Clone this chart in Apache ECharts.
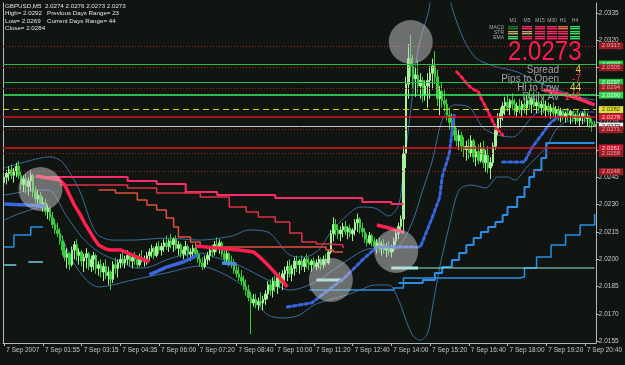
<!DOCTYPE html>
<html><head><meta charset="utf-8">
<script src="https://cdn.jsdelivr.net/npm/echarts@6/dist/echarts.min.js"></script>
<style>html,body{margin:0;padding:0;background:#101512;}#c{width:625px;height:365px;}</style>
</head><body><div id="c"></div>
<script>
// ---------- DATA ----------
const tickLabels = ["7 Sep 2007","7 Sep 01:55","7 Sep 03:15","7 Sep 04:35","7 Sep 06:00","7 Sep 07:20","7 Sep 08:40","7 Sep 10:00","7 Sep 11:20","7 Sep 12:40","7 Sep 14:00","7 Sep 15:20","7 Sep 16:40","7 Sep 18:00","7 Sep 19:20","7 Sep 20:40"];
const barsPerTick = 16;
const barCount = 245;
const yTicks = [2.0155,2.0170,2.0185,2.0200,2.0215,2.0230,2.0245,2.0260,2.0275,2.0290,2.0305,2.0320,2.0335];

// [open, close, low, high]
const ohlc = [
[2.0242,2.0245,2.0240,2.0247],[2.0245,2.0247,2.0241,2.0249],[2.0247,2.0249,2.0243,2.0251],[2.0249,2.0246,2.0244,2.0252],[2.0246,2.0248,2.0242,2.0250],
[2.0248,2.0251,2.0245,2.0253],[2.0251,2.0246,2.0244,2.0254],[2.0246,2.0241,2.0238,2.0248],[2.0241,2.0244,2.0237,2.0246],[2.0244,2.0240,2.0236,2.0247],
[2.0240,2.0243,2.0235,2.0245],[2.0243,2.0246,2.0237,2.0249],[2.0246,2.0237,2.0234,2.0247],[2.0237,2.0233,2.0231,2.0240],[2.0233,2.0235,2.0229,2.0238],
[2.0235,2.0230,2.0228,2.0237],[2.0230,2.0231,2.0226,2.0234],[2.0231,2.0226,2.0224,2.0233],[2.0226,2.0228,2.0222,2.0230],[2.0228,2.0223,2.0221,2.0229],
[2.0223,2.0219,2.0217,2.0226],[2.0219,2.0216,2.0214,2.0222],[2.0216,2.0214,2.0212,2.0220],[2.0214,2.0210,2.0208,2.0217],[2.0210,2.0205,2.0202,2.0213],
[2.0205,2.0201,2.0199,2.0209],[2.0201,2.0203,2.0195,2.0206],[2.0203,2.0197,2.0194,2.0204],[2.0197,2.0205,2.0196,2.0207],[2.0205,2.0208,2.0200,2.0210],
[2.0208,2.0202,2.0199,2.0211],[2.0202,2.0204,2.0197,2.0206],[2.0204,2.0199,2.0196,2.0205],[2.0199,2.0201,2.0193,2.0203],[2.0201,2.0203,2.0195,2.0206],
[2.0203,2.0196,2.0194,2.0204],[2.0196,2.0200,2.0193,2.0202],[2.0200,2.0202,2.0194,2.0204],[2.0202,2.0195,2.0192,2.0203],[2.0195,2.0197,2.0191,2.0199],
[2.0197,2.0193,2.0190,2.0200],[2.0193,2.0196,2.0188,2.0198],[2.0196,2.0191,2.0189,2.0200],[2.0191,2.0193,2.0186,2.0196],[2.0193,2.0189,2.0183,2.0194],
[2.0189,2.0197,2.0187,2.0199],[2.0197,2.0195,2.0192,2.0201],[2.0195,2.0198,2.0190,2.0200],[2.0198,2.0200,2.0195,2.0203],[2.0200,2.0198,2.0196,2.0204],
[2.0198,2.0200,2.0195,2.0202],[2.0200,2.0202,2.0197,2.0205],[2.0202,2.0199,2.0196,2.0203],[2.0199,2.0201,2.0195,2.0202],[2.0201,2.0200,2.0197,2.0204],
[2.0200,2.0197,2.0195,2.0201],[2.0197,2.0201,2.0196,2.0203],[2.0201,2.0199,2.0198,2.0205],[2.0199,2.0200,2.0196,2.0202],[2.0200,2.0202,2.0197,2.0204],
[2.0202,2.0204,2.0199,2.0206],[2.0204,2.0206,2.0201,2.0208],[2.0206,2.0202,2.0200,2.0207],[2.0202,2.0207,2.0201,2.0209],[2.0207,2.0205,2.0203,2.0210],
[2.0205,2.0207,2.0202,2.0209],[2.0207,2.0209,2.0204,2.0211],[2.0209,2.0207,2.0205,2.0213],[2.0207,2.0210,2.0204,2.0211],[2.0210,2.0208,2.0206,2.0214],
[2.0208,2.0211,2.0204,2.0212],[2.0211,2.0206,2.0205,2.0213],[2.0206,2.0208,2.0202,2.0210],[2.0208,2.0203,2.0201,2.0209],[2.0203,2.0205,2.0200,2.0207],
[2.0205,2.0207,2.0202,2.0210],[2.0207,2.0203,2.0201,2.0208],[2.0203,2.0204,2.0199,2.0206],[2.0204,2.0206,2.0200,2.0208],[2.0206,2.0203,2.0201,2.0209],
[2.0203,2.0200,2.0198,2.0205],[2.0200,2.0198,2.0196,2.0203],[2.0198,2.0196,2.0194,2.0201],[2.0196,2.0200,2.0195,2.0202],[2.0200,2.0202,2.0197,2.0204],
[2.0202,2.0205,2.0199,2.0206],[2.0205,2.0204,2.0201,2.0208],[2.0204,2.0208,2.0202,2.0210],[2.0208,2.0206,2.0204,2.0212],[2.0206,2.0209,2.0203,2.0211],
[2.0209,2.0203,2.0201,2.0210],[2.0203,2.0200,2.0198,2.0206],[2.0200,2.0203,2.0197,2.0205],[2.0203,2.0198,2.0196,2.0204],[2.0198,2.0197,2.0195,2.0202],
[2.0197,2.0194,2.0192,2.0200],[2.0194,2.0192,2.0190,2.0197],[2.0192,2.0190,2.0188,2.0196],[2.0190,2.0188,2.0186,2.0194],[2.0188,2.0185,2.0183,2.0191],
[2.0185,2.0183,2.0180,2.0189],[2.0183,2.0179,2.0177,2.0186],[2.0179,2.0176,2.0159,2.0182],[2.0176,2.0178,2.0174,2.0181],[2.0178,2.0175,2.0173,2.0181],
[2.0175,2.0177,2.0172,2.0179],[2.0177,2.0176,2.0174,2.0182],[2.0176,2.0178,2.0172,2.0180],[2.0178,2.0181,2.0175,2.0183],[2.0181,2.0186,2.0178,2.0188],
[2.0186,2.0183,2.0180,2.0189],[2.0183,2.0188,2.0179,2.0190],[2.0188,2.0185,2.0182,2.0191],[2.0185,2.0190,2.0181,2.0192],[2.0190,2.0187,2.0184,2.0193],
[2.0187,2.0192,2.0183,2.0194],[2.0192,2.0194,2.0186,2.0196],[2.0194,2.0196,2.0188,2.0199],[2.0196,2.0192,2.0190,2.0200],[2.0192,2.0195,2.0188,2.0197],
[2.0195,2.0199,2.0191,2.0201],[2.0199,2.0197,2.0193,2.0202],[2.0197,2.0199,2.0192,2.0200],[2.0199,2.0196,2.0194,2.0202],[2.0196,2.0200,2.0193,2.0201],
[2.0200,2.0198,2.0195,2.0203],[2.0198,2.0197,2.0194,2.0201],[2.0197,2.0199,2.0193,2.0200],[2.0199,2.0196,2.0195,2.0201],[2.0196,2.0198,2.0194,2.0200],
[2.0198,2.0200,2.0195,2.0202],[2.0200,2.0197,2.0194,2.0201],[2.0197,2.0200,2.0195,2.0202],[2.0200,2.0198,2.0196,2.0203],[2.0198,2.0204,2.0197,2.0205],
[2.0204,2.0214,2.0203,2.0216],[2.0214,2.0219,2.0210,2.0223],[2.0219,2.0216,2.0213,2.0222],[2.0216,2.0214,2.0211,2.0219],[2.0214,2.0216,2.0210,2.0218],
[2.0216,2.0218,2.0212,2.0220],[2.0218,2.0215,2.0213,2.0221],[2.0215,2.0217,2.0211,2.0218],[2.0217,2.0214,2.0212,2.0219],[2.0214,2.0216,2.0210,2.0217],
[2.0216,2.0220,2.0213,2.0222],[2.0220,2.0222,2.0215,2.0225],[2.0222,2.0217,2.0214,2.0223],[2.0217,2.0215,2.0212,2.0220],[2.0215,2.0211,2.0209,2.0217],
[2.0211,2.0209,2.0207,2.0214],[2.0209,2.0213,2.0208,2.0215],[2.0213,2.0210,2.0207,2.0214],[2.0210,2.0207,2.0205,2.0212],[2.0207,2.0209,2.0203,2.0211],
[2.0209,2.0206,2.0204,2.0212],[2.0206,2.0208,2.0202,2.0210],[2.0208,2.0205,2.0203,2.0211],[2.0205,2.0207,2.0201,2.0209],[2.0207,2.0204,2.0202,2.0210],
[2.0204,2.0206,2.0201,2.0208],[2.0206,2.0210,2.0204,2.0212],[2.0210,2.0214,2.0208,2.0216],[2.0214,2.0218,2.0211,2.0220],[2.0218,2.0222,2.0215,2.0224],
[2.0222,2.0258,2.0214,2.0262],[2.0258,2.0296,2.0250,2.0300],[2.0296,2.0310,2.0288,2.0318],[2.0310,2.0306,2.0300,2.0323],[2.0306,2.0299,2.0294,2.0312],
[2.0299,2.0301,2.0289,2.0305],[2.0301,2.0295,2.0291,2.0309],[2.0295,2.0298,2.0288,2.0302],[2.0298,2.0290,2.0286,2.0300],[2.0290,2.0295,2.0287,2.0298],
[2.0295,2.0298,2.0283,2.0302],[2.0298,2.0302,2.0288,2.0306],[2.0302,2.0306,2.0293,2.0310],[2.0306,2.0300,2.0296,2.0314],[2.0300,2.0288,2.0284,2.0304],
[2.0288,2.0292,2.0279,2.0295],[2.0292,2.0287,2.0283,2.0297],[2.0287,2.0285,2.0281,2.0293],[2.0285,2.0279,2.0276,2.0288],[2.0279,2.0275,2.0271,2.0283],
[2.0275,2.0273,2.0269,2.0280],[2.0273,2.0268,2.0265,2.0277],[2.0268,2.0265,2.0262,2.0272],[2.0265,2.0268,2.0260,2.0271],[2.0268,2.0262,2.0259,2.0270],
[2.0262,2.0260,2.0256,2.0267],[2.0260,2.0262,2.0254,2.0265],[2.0262,2.0258,2.0255,2.0266],[2.0258,2.0265,2.0256,2.0268],[2.0265,2.0256,2.0253,2.0266],
[2.0256,2.0259,2.0251,2.0262],[2.0259,2.0254,2.0252,2.0263],[2.0254,2.0261,2.0253,2.0264],[2.0261,2.0253,2.0250,2.0265],[2.0253,2.0257,2.0248,2.0260],
[2.0257,2.0250,2.0247,2.0262],[2.0250,2.0253,2.0244,2.0256],[2.0253,2.0262,2.0251,2.0264],[2.0262,2.0271,2.0260,2.0274],[2.0271,2.0277,2.0268,2.0280],
[2.0277,2.0280,2.0272,2.0283],[2.0280,2.0284,2.0276,2.0286],[2.0284,2.0286,2.0279,2.0289],[2.0286,2.0283,2.0281,2.0290],[2.0283,2.0287,2.0279,2.0288],
[2.0287,2.0285,2.0282,2.0291],[2.0285,2.0281,2.0279,2.0288],[2.0281,2.0284,2.0278,2.0286],[2.0284,2.0282,2.0280,2.0288],[2.0282,2.0285,2.0278,2.0287],
[2.0285,2.0283,2.0280,2.0289],[2.0283,2.0287,2.0279,2.0290],[2.0287,2.0285,2.0282,2.0293],[2.0285,2.0288,2.0280,2.0289],[2.0288,2.0284,2.0283,2.0292],
[2.0284,2.0286,2.0280,2.0288],[2.0286,2.0283,2.0281,2.0290],[2.0283,2.0285,2.0279,2.0287],[2.0285,2.0282,2.0280,2.0289],[2.0282,2.0284,2.0278,2.0287],
[2.0284,2.0281,2.0279,2.0286],[2.0281,2.0283,2.0277,2.0285],[2.0283,2.0280,2.0278,2.0286],[2.0280,2.0282,2.0277,2.0284],[2.0282,2.0279,2.0276,2.0284],
[2.0279,2.0281,2.0275,2.0283],[2.0281,2.0278,2.0276,2.0282],[2.0278,2.0280,2.0275,2.0281],[2.0280,2.0279,2.0276,2.0283],[2.0279,2.0281,2.0274,2.0282],
[2.0281,2.0277,2.0275,2.0281],[2.0277,2.0279,2.0274,2.0280],[2.0279,2.0276,2.0275,2.0282],[2.0276,2.0278,2.0273,2.0280],[2.0278,2.0280,2.0274,2.0281],
[2.0280,2.0277,2.0275,2.0282],[2.0277,2.0278,2.0273,2.0280],[2.0278,2.0275,2.0272,2.0279],[2.0275,2.0274,2.0270,2.0277],[2.0274,2.0273,2.0273,2.0276]
];

// Bollinger-style envelope lines: [bar index, price]
const upperBand = [[0,2.02500],[7,2.02528],[19,2.02561],[24,2.02533],[31,2.02380],[38,2.02144],[45,2.02105],[53,2.02105],[67,2.02116],[81,2.02105],[94,2.02127],[101,2.02160],[109,2.02149],[118,2.02023],[124,2.02012],[130,2.02051],[135,2.02149],[141,2.02232],[147,2.02286],[153,2.02281],[159,2.02237],[163,2.02297],[165,2.02489],[168,2.02818],[171,2.03147],[175,2.03339],[178,2.03476],[182,2.03476],[186,2.03339],[190,2.03202],[195,2.03103],[202,2.03060],[212,2.03027],[221,2.02966],[229,2.02928],[237,2.02890],[244,2.02873]];
const midBand = [[0,2.02352],[5,2.02363],[12,2.02380],[18,2.02380],[26,2.02232],[32,2.02122],[39,2.02040],[48,2.01985],[55,2.01952],[60,2.01957],[67,2.01996],[74,2.02023],[81,2.02034],[88,2.02007],[94,2.01985],[101,2.01941],[109,2.01886],[118,2.01831],[124,2.01848],[130,2.01886],[136,2.01941],[142,2.01996],[149,2.02051],[155,2.02062],[161,2.02051],[165,2.02105],[169,2.02215],[173,2.02380],[177,2.02544],[181,2.02763],[186,2.02846],[192,2.02835],[198,2.02720],[204,2.02681],[210,2.02670],[219,2.02791],[225,2.02818],[231,2.02818],[237,2.02807],[244,2.02807]];
const lowerBand = [[0,2.02215],[7,2.02254],[16,2.02286],[23,2.02144],[28,2.01996],[34,2.01886],[39,2.01848],[53,2.01886],[67,2.01925],[81,2.01963],[89,2.01930],[97,2.01870],[103,2.01788],[109,2.01694],[116,2.01678],[122,2.01694],[128,2.01749],[134,2.01777],[140,2.01798],[147,2.01831],[153,2.01859],[159,2.01859],[163,2.01777],[166,2.01667],[169,2.01579],[172,2.01556],[175,2.01596],[177,2.01738],[180,2.01957],[184,2.02188],[188,2.02380],[193,2.02407],[199,2.02391],[204,2.02451],[208,2.02451],[211,2.02434],[216,2.02506],[224,2.02615],[228,2.02709],[232,2.02752],[238,2.02763],[244,2.02752]];

// Red (resistance) trailing dots
const sarRedA = [[13,2.02456],[23,2.02434],[25,2.02407],[27,2.02352],[29,2.02297],[31,2.02254],[33,2.02204],[35,2.02160],[37,2.02116],[39,2.02078],[42,2.02056],[44,2.02051],[48,2.02051],[55,2.02012],[60,2.01985]];
const sarRedB = [[79,2.02073],[97,2.02051],[103,2.02040],[106,2.02007],[109,2.01968],[112,2.01925],[115,2.01881],[117,2.01848]];
const sarRedC = [[154,2.02188],[159,2.02171],[165,2.02149]];
const sarRedD = [[187,2.03027],[189,2.02999],[191,2.02966],[193,2.02939],[196,2.02917],[197,2.02884],[199,2.02835],[201,2.02780],[203,2.02725],[206,2.02681]];
const sarRedE = [[223,2.02928],[229,2.02911],[235,2.02890],[241,2.02862],[244,2.02846]];
// Blue (support) trailing dots
const sarBlueA = [[0,2.02303],[9,2.02297],[17,2.02292]];
const sarBlueB = [[60,2.01914],[67,2.01957],[74,2.01985],[80,2.02023]];
const sarBlueC = [[90,2.01979],[96,2.01974]];
const sarBlueD = [[117,2.01738],[127,2.01760],[134,2.01831],[141,2.01903],[148,2.01996],[154,2.02067],[163,2.02067],[172,2.02067],[177,2.02232],[180,2.02341],[181,2.02451],[184,2.02582],[185,2.02692],[186,2.02791]];
const sarBlueE = [[206,2.02533],[215,2.02533],[218,2.02610],[222,2.02681],[226,2.02752],[229,2.02780]];

// Step (trailing stop) lines
const stairRed1 = [[13,2.02451],[51,2.02429],[63,2.02413],[75,2.02369],[88,2.02352],[112,2.02336],[148,2.02314],[160,2.02303],[165,2.02303]];
const stairRed2 = [[23,2.02407],[51,2.02391],[63,2.02363],[81,2.02341],[93,2.02286],[100,2.02259],[105,2.02232],[112,2.02204],[118,2.02144],[123,2.02095],[129,2.02084],[134,2.02078],[140,2.02062]];
const stairRed3 = [[39,2.02380],[46,2.02363],[55,2.02325],[59,2.02297],[63,2.02270],[67,2.02226],[70,2.02177],[72,2.02122],[77,2.02095],[81,2.02067],[133,2.02051],[136,2.02040],[140,2.02040]];
const stairBlueLeft = [[0,2.02067],[4,2.02133],[11,2.02177],[16,2.02177]];
const cyanLeftA = [[0,2.01968],[5,2.01968]];
const cyanLeftB = [[10,2.01985],[16,2.01985]];
const stairBlue1 = [[163,2.01870],[173,2.01886],[178,2.01925],[181,2.01957],[185,2.01996],[188,2.02034],[191,2.02078],[194,2.02116],[197,2.02149],[200,2.02177],[203,2.02204],[206,2.02243],[208,2.02286],[212,2.02341],[215,2.02396],[217,2.02451],[219,2.02489],[222,2.02555],[224,2.02637],[244,2.02637]];
const stairBlue2 = [[126,2.01831],[161,2.01842],[165,2.01897],[213,2.01903],[215,2.01952],[220,2.02012],[226,2.02078],[232,2.02133],[238,2.02188],[244,2.02248]];
const cyanLine = [[160,2.01952],[244,2.01952]];
const cyanThickA = [[129,2.01886],[140,2.01886]];
const cyanThickB = [[160,2.01952],[171,2.01952]];

// Highlight circles
const highlights = [[15,2.02385],[135,2.01886],[162,2.02045],[168,2.03191]];

// Horizontal levels
const levelPrices = [2.0317,2.0307,2.0305,2.0297,2.0294,2.0290,2.0282,2.0278,2.0273,2.0271,2.0261,2.0258,2.0248];
const levelKinds  = ['dot','green','dot','green','dot','green2','yellow','red','bid','dot','red','dot','dot'];

// Texts
const headerLeft  = ["GBPUSD,M5  2.0274 2.0276 2.0273 2.0273","High= 2.0292","Low= 2.0269","Close= 2.0284"];
const headerRight = ["","Previous Days Range= 23","Current Days Range= 44",""];
const tfLabels = ['M1','M5','M15','M30','H1','H4'];
const rowLabels = ['MACD','STR','EMA'];
const cellColors = [
  ['#1f7a30','#ff2466','#ff2466','#ff2466','#f06a50','#34e060'],
  ['#c8a868','#c8a868','#ff2466','#ff2466','#ff2466','#34e060'],
  ['#40e060','#ff2466','#ff2466','#ff2466','#ff2466','#34e060']];
const bigPrice = '2.0273';
const statLabels = ['Spread','Pips to Open','Hi to Low','Daily Av'];
const statValues = ['4','-7','44','146'];
const statColors = ['#f0c040','#ff3838','#f0d050','#ff4848'];

// ---------- CHART ----------
const FONT = '"Liberation Sans", Arial, sans-serif';
const categories = Array.from({length: barCount}, (_, i) => i % barsPerTick === 0 ? tickLabels[i / barsPerTick] : '');
const Y_MIN = 2.015408, Y_MAX = 2.034048;

const levelStyle = {
  dot:    {line:{color:'#b01c1c',type:[1,2],width:1}, bg:'#9a1c24', fg:'#f0a0a0'},
  green:  {line:{color:'#22c040',type:'solid',width:1}, bg:'#28c444', fg:'#eaffea'},
  green2: {line:{color:'#3cf060',type:'solid',width:1.5}, bg:'#30d050', fg:'#eaffea'},
  yellow: {line:{color:'#d8d800',type:[6,4],width:1}, bg:'#e0e040', fg:'#404000'},
  red:    {line:{color:'#e01020',type:'solid',width:1.5}, bg:'#d01830', fg:'#ffd0d0'},
  bid:    {line:{color:'#c8c8c8',type:'solid',width:1}, bg:'#f0f0f0', fg:'#202020'}
};
const markData = levelPrices.map((p, k) => {
  const s = levelStyle[levelKinds[k]];
  return {yAxis: p, lineStyle: s.line,
    label: {show:true, position:'end', distance:3, formatter: p.toFixed(4), color: s.fg,
            backgroundColor: s.bg, fontSize: 6, fontFamily: FONT, padding:[1,3,0,3]}};
});

function lineS(data, color, width, opts) {
  return Object.assign({type:'line', data, showSymbol:false, symbol:'none', silent:true,
    lineStyle:{color, width}, z:3, animation:false}, opts || {});
}

const series = [
  {type:'line', data:[], z:1, silent:true, animation:false,
   markLine:{symbol:['none','none'], precision:5, silent:true, animation:false, data: markData}},
  lineS(upperBand, '#3b6d9e', 1, {smooth:0.3, z:1}),
  lineS(midBand, '#3b6d9e', 1, {smooth:0.3, z:1}),
  lineS(lowerBand, '#3b6d9e', 1, {smooth:0.3, z:1}),
  {type:'candlestick', data: ohlc, barWidth: 2, z:2, silent:true, animation:false,
   itemStyle:{color:'#a6f29c', color0:'#38cc38', borderColor:'#a6f29c', borderColor0:'#38cc38', borderWidth:1}},
  lineS(stairRed1, '#ff2a6a', 2, {step:'end'}),
  lineS(stairRed2, '#e0304a', 1.5, {step:'end'}),
  lineS(stairRed3, '#e2503e', 1.5, {step:'end'}),
  lineS(stairBlueLeft, '#2a90e0', 1.5, {step:'end'}),
  lineS(cyanLeftA, '#70d0e8', 1.5),
  lineS(cyanLeftB, '#70d0e8', 1.5),
  lineS(stairBlue1, '#2a8ee6', 2, {step:'end'}),
  lineS(stairBlue2, '#2a8ee6', 1.5, {step:'end'}),
  lineS(cyanLine, '#8fe8e0', 1),
  lineS(cyanThickA, '#a0f0e8', 3),
  lineS(cyanThickB, '#a0f0e8', 3),
  lineS(sarRedA, '#ff1f50', 3.5),
  lineS(sarRedB, '#ff1f50', 3.5),
  lineS(sarRedC, '#ff1f50', 3.5),
  lineS(sarRedD, '#ff1f50', 3, {lineStyle:{color:'#ff1f50', width:3, type:[3,3], cap:'round'}}),
  lineS(sarRedE, '#ff2a60', 3.5),
  lineS(sarBlueA, '#3a66e0', 3.5),
  lineS(sarBlueB, '#3a66e0', 3.5),
  lineS(sarBlueC, '#4a8ae0', 3.5),
  lineS(sarBlueD, '#3a66e0', 3, {lineStyle:{color:'#3a66e0', width:3, type:[3,3], cap:'round'}}),
  lineS(sarBlueE, '#3a66e0', 3, {lineStyle:{color:'#3a66e0', width:3, type:[3,3], cap:'round'}}),
  {type:'scatter', data: highlights, symbol:'circle', symbolSize:44, silent:true, z:10, animation:false,
   itemStyle:{color:'rgba(205,205,205,0.62)'}}
];

// graphics
const graphics = [];
headerLeft.forEach((t, k) => graphics.push({type:'text', x:5, y:6 + k*7.4,
  style:{text:t, fill:'#e4e4e4', font:'6.2px ' + FONT, verticalAlign:'middle'}, z:20}));
headerRight.forEach((t, k) => { if (t) graphics.push({type:'text', x:47, y:6 + k*7.4,
  style:{text:t, fill:'#e4e4e4', font:'6.2px ' + FONT, verticalAlign:'middle'}, z:20}); });
const colX = [513,527,540,552,563,575];
tfLabels.forEach((t, c) => graphics.push({type:'text', x:colX[c], y:21,
  style:{text:t, fill:'#a8a8a8', font:'5px ' + FONT, align:'center', verticalAlign:'middle'}, z:20}));
rowLabels.forEach((t, r) => {
  graphics.push({type:'text', x:504, y:27.5 + r*5,
    style:{text:t, fill:'#a8a8a8', font:'5px ' + FONT, align:'right', verticalAlign:'middle'}, z:20});
  cellColors[r].forEach((col, c) => {
    graphics.push({type:'rect', shape:{x:colX[c]-5, y:26 + r*5, width:10, height:1.4}, style:{fill:col}, z:20});
    graphics.push({type:'rect', shape:{x:colX[c]-5, y:28 + r*5, width:10, height:1.4}, style:{fill:col}, z:20});
  });
});
graphics.push({type:'text', x:508, y:52.5, scaleX:0.86,
  style:{text:bigPrice, fill:'#ff1a50', font:'28px ' + FONT, verticalAlign:'middle'}, z:20});
statLabels.forEach((t, k) => {
  graphics.push({type:'text', x:559, y:70 + k*9,
    style:{text:t, fill:'#a0a0a0', font:'10px ' + FONT, align:'right', verticalAlign:'middle'}, z:20});
  graphics.push({type:'text', x:581, y:70 + k*9,
    style:{text:statValues[k], fill:statColors[k], font:'10px ' + FONT, align:'right', verticalAlign:'middle'}, z:20});
});

const chart = echarts.init(document.getElementById('c'), null, {renderer:'canvas'});
chart.setOption({
  backgroundColor:'#101512',
  animation:false,
  grid:{left:3, right:27, top:3, bottom:22, containLabel:false},
  xAxis:{type:'category', data:categories, boundaryGap:true,
    axisLine:{show:true, lineStyle:{color:'#b8b8b8'}},
    axisTick:{show:true, alignWithLabel:true, interval:(i)=> i % barsPerTick === 0, length:3, lineStyle:{color:'#b8b8b8'}},
    axisLabel:{interval:(i)=> i % barsPerTick === 0, align:'left', color:'#c8c8c8', fontSize:6.5, fontFamily:FONT, margin:4, padding:[0,0,0,2]},
    splitLine:{show:false}},
  yAxis:[
    {type:'value', position:'right', min:Y_MIN, max:Y_MAX, scale:true,
     axisLine:{show:true, lineStyle:{color:'#b8b8b8'}},
     axisTick:{show:true, customValues:yTicks, length:3, lineStyle:{color:'#b8b8b8'}},
     axisLabel:{customValues:yTicks, formatter:(v)=>v.toFixed(4), color:'#c8c8c8', fontSize:6.5, fontFamily:FONT, margin:3},
     splitLine:{show:false}},
    {type:'value', position:'left', min:Y_MIN, max:Y_MAX, scale:true,
     axisLine:{show:true, lineStyle:{color:'#b8b8b8'}}, axisTick:{show:false}, axisLabel:{show:false}, splitLine:{show:false}}
  ],
  series: series,
  graphic: graphics
});
</script></body></html>
